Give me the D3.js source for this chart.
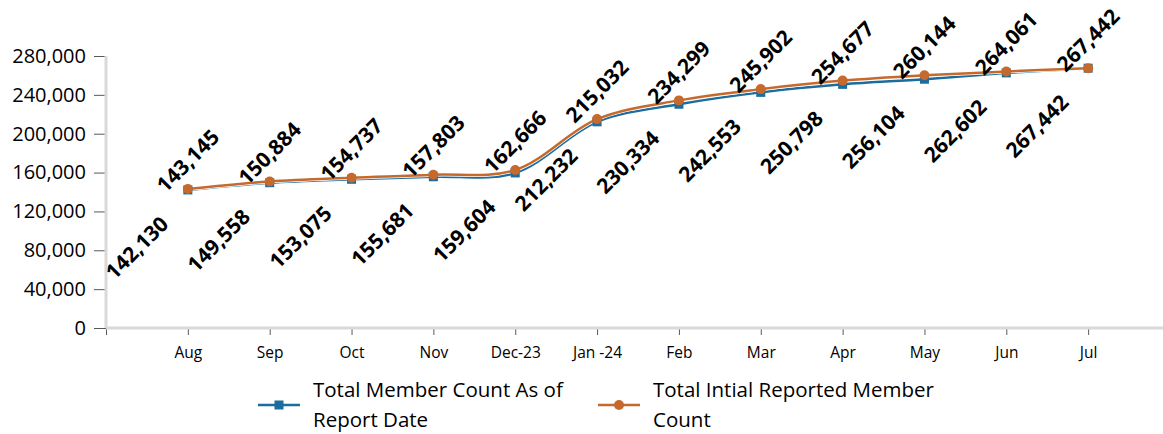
<!DOCTYPE html>
<html>
<head>
<meta charset="utf-8">
<script src="https://cdn.jsdelivr.net/npm/d3@7"></script>
<style>
  body { margin: 0; background: #fff; }
  svg { font-family: "Open Sans", sans-serif; }
</style>
</head>
<body>
<div id="chart"></div>
<script>
const months = ['Aug', 'Sep', 'Oct', 'Nov', 'Dec-23', 'Jan -24', 'Feb', 'Mar', 'Apr', 'May', 'Jun', 'Jul'];
const asOfReport = [142130, 149558, 153075, 155681, 159604, 212232, 230334, 242553, 250798, 256104, 262602, 267442];
const initialReported = [143145, 150884, 154737, 157803, 162666, 215032, 234299, 245902, 254677, 260144, 264061, 267442];
const yTicks = [0, 40000, 80000, 120000, 160000, 200000, 240000, 280000];
const seriesNames = ['Total Member Count As of Report Date', 'Total Intial Reported Member Count'];

const width = 1163;
const height = 434;
const blue = '#1a6d9e';
const orange = '#c5692d';

const svg = d3.select('#chart')
    .append('svg')
    .attr('width', width)
    .attr('height', height);

// category index 1..12, with an empty slot at 0
const x = d3.scaleLinear()
    .domain([0, 13])
    .range([106, 1170]);

const y = d3.scaleLinear()
    .domain([0, 280000])
    .range([328, 56]);

const fmt = d3.format(',');

// y axis
const yAxis = svg.append('g')
    .attr('transform', 'translate(106,0)')
    .call(d3.axisLeft(y).tickValues(yTicks).tickFormat(fmt).tickSize(12).tickSizeOuter(0));
yAxis.select('.domain').remove();
yAxis.selectAll('.tick line').attr('stroke', '#595959');
yAxis.selectAll('.tick text')
    .attr('font-size', '20px')
    .attr('fill', '#000')
    .attr('font-family', 'Open Sans, sans-serif')
    .attr('x', -20);

svg.append('line')
    .attr('x1', 106).attr('x2', 106)
    .attr('y1', y(280000)).attr('y2', y(0))
    .attr('stroke', '#d9d9d9').attr('stroke-width', 3);

// x axis
const xAxis = svg.append('g')
    .attr('transform', `translate(0,${y(0)})`)
    .call(d3.axisBottom(x)
        .tickValues(d3.range(0, 13))
        .tickFormat(i => i === 0 ? '' : months[i - 1])
        .tickSize(7)
        .tickSizeOuter(0));
xAxis.select('.domain').remove();
xAxis.selectAll('.tick line').attr('stroke', '#595959');
xAxis.selectAll('.tick text')
    .attr('font-size', '15.5px')
    .attr('fill', '#000')
    .attr('font-family', 'Open Sans, sans-serif')
    .attr('y', 19);

svg.append('line')
    .attr('x1', 106).attr('x2', width)
    .attr('y1', y(0)).attr('y2', y(0))
    .attr('stroke', '#d9d9d9').attr('stroke-width', 3);

// lines
const line = d3.line()
    .x((d, i) => x(i + 1))
    .y(d => y(d))
    .curve(d3.curveCatmullRom.alpha(0.5));

svg.append('path')
    .datum(asOfReport)
    .attr('d', line)
    .attr('fill', 'none')
    .attr('stroke', blue)
    .attr('stroke-width', 2.5);

svg.append('path')
    .datum(initialReported)
    .attr('d', line)
    .attr('fill', 'none')
    .attr('stroke', '#fff')
    .attr('stroke-width', 4);

svg.append('path')
    .datum(initialReported)
    .attr('d', line)
    .attr('fill', 'none')
    .attr('stroke', orange)
    .attr('stroke-width', 2.5);

// markers
svg.append('g')
    .selectAll('rect')
    .data(asOfReport)
    .join('rect')
    .attr('x', (d, i) => x(i + 1) - 4.5)
    .attr('y', d => y(d) - 4.5)
    .attr('width', 9)
    .attr('height', 9)
    .attr('fill', blue);

svg.append('g')
    .selectAll('circle')
    .data(initialReported)
    .join('circle')
    .attr('cx', (d, i) => x(i + 1))
    .attr('cy', d => y(d))
    .attr('r', 5)
    .attr('fill', orange);

// data labels, rotated
svg.append('g')
    .selectAll('text')
    .data(initialReported)
    .join('text')
    .attr('transform', (d, i) => `translate(${x(i + 1)},${y(d) - 28}) rotate(-45)`)
    .attr('text-anchor', 'middle')
    .attr('dy', '0.35em')
    .attr('font-size', '21px')
    .attr('font-weight', 'bold')
    .text(fmt);

svg.append('g')
    .selectAll('text')
    .data(asOfReport)
    .join('text')
    .attr('transform', (d, i) => `translate(${x(i + 1) - 51},${y(d) + 58}) rotate(-45)`)
    .attr('text-anchor', 'middle')
    .attr('dy', '0.35em')
    .attr('font-size', '21px')
    .attr('font-weight', 'bold')
    .text(fmt);

// legend
const legendItems = [
    { name: seriesNames[0], color: blue, shape: 'rect', x: 258, lines: ['Total Member Count As of', 'Report Date'] },
    { name: seriesNames[1], color: orange, shape: 'circle', x: 598, lines: ['Total Intial Reported Member', 'Count'] }
];

const legend = svg.append('g')
    .selectAll('g')
    .data(legendItems)
    .join('g')
    .attr('transform', d => `translate(${d.x},405)`);

legend.append('line')
    .attr('x1', 0).attr('x2', 42)
    .attr('stroke', d => d.color)
    .attr('stroke-width', 2.5);

legend.filter(d => d.shape === 'rect').append('rect')
    .attr('x', 16.5).attr('y', -4.5)
    .attr('width', 9).attr('height', 9)
    .attr('fill', d => d.color);

legend.filter(d => d.shape === 'circle').append('circle')
    .attr('cx', 21).attr('r', 5)
    .attr('fill', d => d.color);

legend.append('text')
    .attr('font-size', '20.5px')
    .attr('fill', '#000')
    .selectAll('tspan')
    .data(d => d.lines)
    .join('tspan')
    .attr('x', 55)
    .attr('y', (d, i) => i === 0 ? -15 : 15)
    .attr('dy', '0.35em')
    .text(d => d);
</script>
</body>
</html>
